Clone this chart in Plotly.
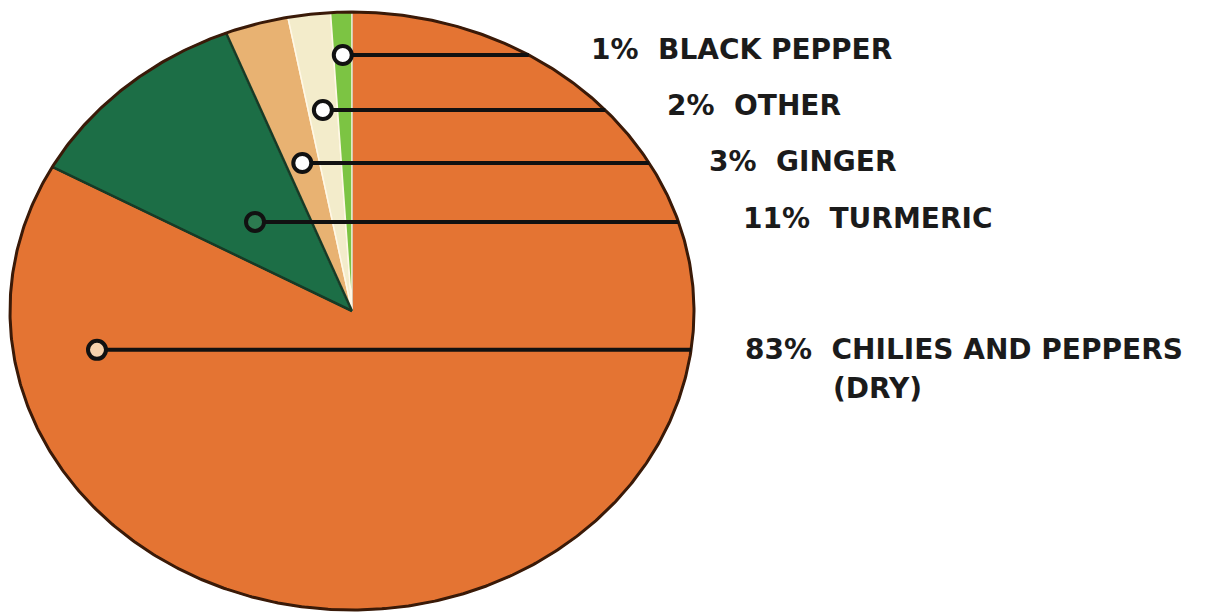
import numpy as np
import plotly.graph_objects as go

# ---------------- data ----------------
categories = ["CHILIES AND PEPPERS (DRY)", "TURMERIC", "GINGER", "OTHER", "BLACK PEPPER"]
values = [83, 11, 3, 2, 1]
pct_labels = ["83%", "11%", "3%", "2%", "1%"]
name_labels = ["CHILIES AND PEPPERS", "TURMERIC", "GINGER", "OTHER", "BLACK PEPPER"]
name_sub = ["(DRY)", "", "", "", ""]

# ---------------- style / layout ----------------
slice_colors = ["#E47433", "#1C6E46", "#E8B272", "#F3ECCB", "#7CC443"]
edge_colors = ["#3A1A08", "#14402A", "#FFF4DC", "#FFF8E6", "#FFF8E6"]
dot_fill = ["#F6D3AE", "#2C7A50", "#FFFFFF", "#FFFFFF", "#FFFFFF"]
W, H = 1227, 612
CX, CY = 352, 311          # pie centre in pixels
RX, RY = 342, 299          # ellipse radii in pixels
label_level = [-0.13, 0.298, 0.495, 0.672, 0.856]   # leader heights (fraction of RY)
dot_frac = [0.124, 0.61, 0.5, 0.5, 0.5]             # dot position across slice chord
text_gap_px = [52, 63, 58, 60, 60]
text_yshift = [0, 3, 2, 5, 6]
sub_xshift = 88
sub_yshift = -39
FONT = "DejaVu Sans"
FONT_SIZE = 28

# ---------------- geometry from data ----------------
vals = np.array(values, dtype=float)
frac = vals / vals.sum()
ends = np.cumsum(frac) * 2 * np.pi
starts = ends - frac * 2 * np.pi


def slice_of(theta):
    theta = np.mod(theta, 2 * np.pi)
    return np.searchsorted(ends, theta, side="right")


fig = go.Figure()

# slices (angle measured clockwise from 12 o'clock)
for i, cat in enumerate(categories):
    n = max(4, int(frac[i] * 720))
    th = np.linspace(starts[i], ends[i], n)
    xs = np.concatenate([[0], np.sin(th), [0]])
    ys = np.concatenate([[0], np.cos(th), [0]])
    fig.add_trace(go.Scatter(x=xs, y=ys, mode="lines", fill="toself",
                             fillcolor=slice_colors[i],
                             line=dict(color=edge_colors[i], width=1.5),
                             name=cat, hoverinfo="name", showlegend=False))

# dark boundaries of the turmeric slice
for a in [starts[1], ends[1]]:
    fig.add_trace(go.Scatter(x=[0, np.sin(a)], y=[0, np.cos(a)], mode="lines",
                             line=dict(color="#173A26", width=2.5),
                             hoverinfo="skip", showlegend=False))

# outer rim
th = np.linspace(0, 2 * np.pi, 721)
fig.add_trace(go.Scatter(x=np.sin(th), y=np.cos(th), mode="lines",
                         line=dict(color="#3A1A08", width=3),
                         hoverinfo="skip", showlegend=False))

# leader lines and dots
xgrid = np.linspace(-0.999, 0.999, 4001)
dot_x, dot_y = [], []
for i in range(len(categories)):
    yl = label_level[i]
    inside = xgrid ** 2 + yl ** 2 < 1
    theta = np.arctan2(xgrid, yl)
    sl = slice_of(theta)
    sel = xgrid[inside & (sl == i)]
    dx = sel.min() + dot_frac[i] * (sel.max() - sel.min())
    edge = np.sqrt(1 - yl ** 2)
    dot_x.append(dx)
    dot_y.append(yl)
    fig.add_trace(go.Scatter(x=[dx, edge], y=[yl, yl], mode="lines",
                             line=dict(color="#111111", width=4),
                             hoverinfo="skip", showlegend=False))
    fig.add_annotation(x=edge, y=yl, xref="x", yref="y",
                       text=pct_labels[i] + "\u00a0\u00a0" + name_labels[i],
                       showarrow=False, xanchor="left", yanchor="middle",
                       xshift=text_gap_px[i], yshift=text_yshift[i],
                       font=dict(family=FONT, size=FONT_SIZE, color="#1B1B1B", weight="bold"))
    if name_sub[i]:
        fig.add_annotation(x=edge, y=yl, xref="x", yref="y",
                           text=name_sub[i], showarrow=False,
                           xanchor="left", yanchor="middle",
                           xshift=text_gap_px[i] + sub_xshift,
                           yshift=text_yshift[i] + sub_yshift,
                           font=dict(family=FONT, size=FONT_SIZE, color="#1B1B1B", weight="bold"))

fig.add_trace(go.Scatter(x=dot_x, y=dot_y, mode="markers",
                         marker=dict(size=18, color=dot_fill,
                                     line=dict(color="#111111", width=4)),
                         hoverinfo="skip", showlegend=False))

fig.update_layout(
    width=W, height=H,
    margin=dict(l=0, r=0, t=0, b=0),
    paper_bgcolor="white", plot_bgcolor="white",
    xaxis=dict(range=[-CX / RX, (W - CX) / RX], visible=False, fixedrange=True),
    yaxis=dict(range=[-(H - CY) / RY, CY / RY], visible=False, fixedrange=True),
    showlegend=False,
)

fig.write_html("out.html")
